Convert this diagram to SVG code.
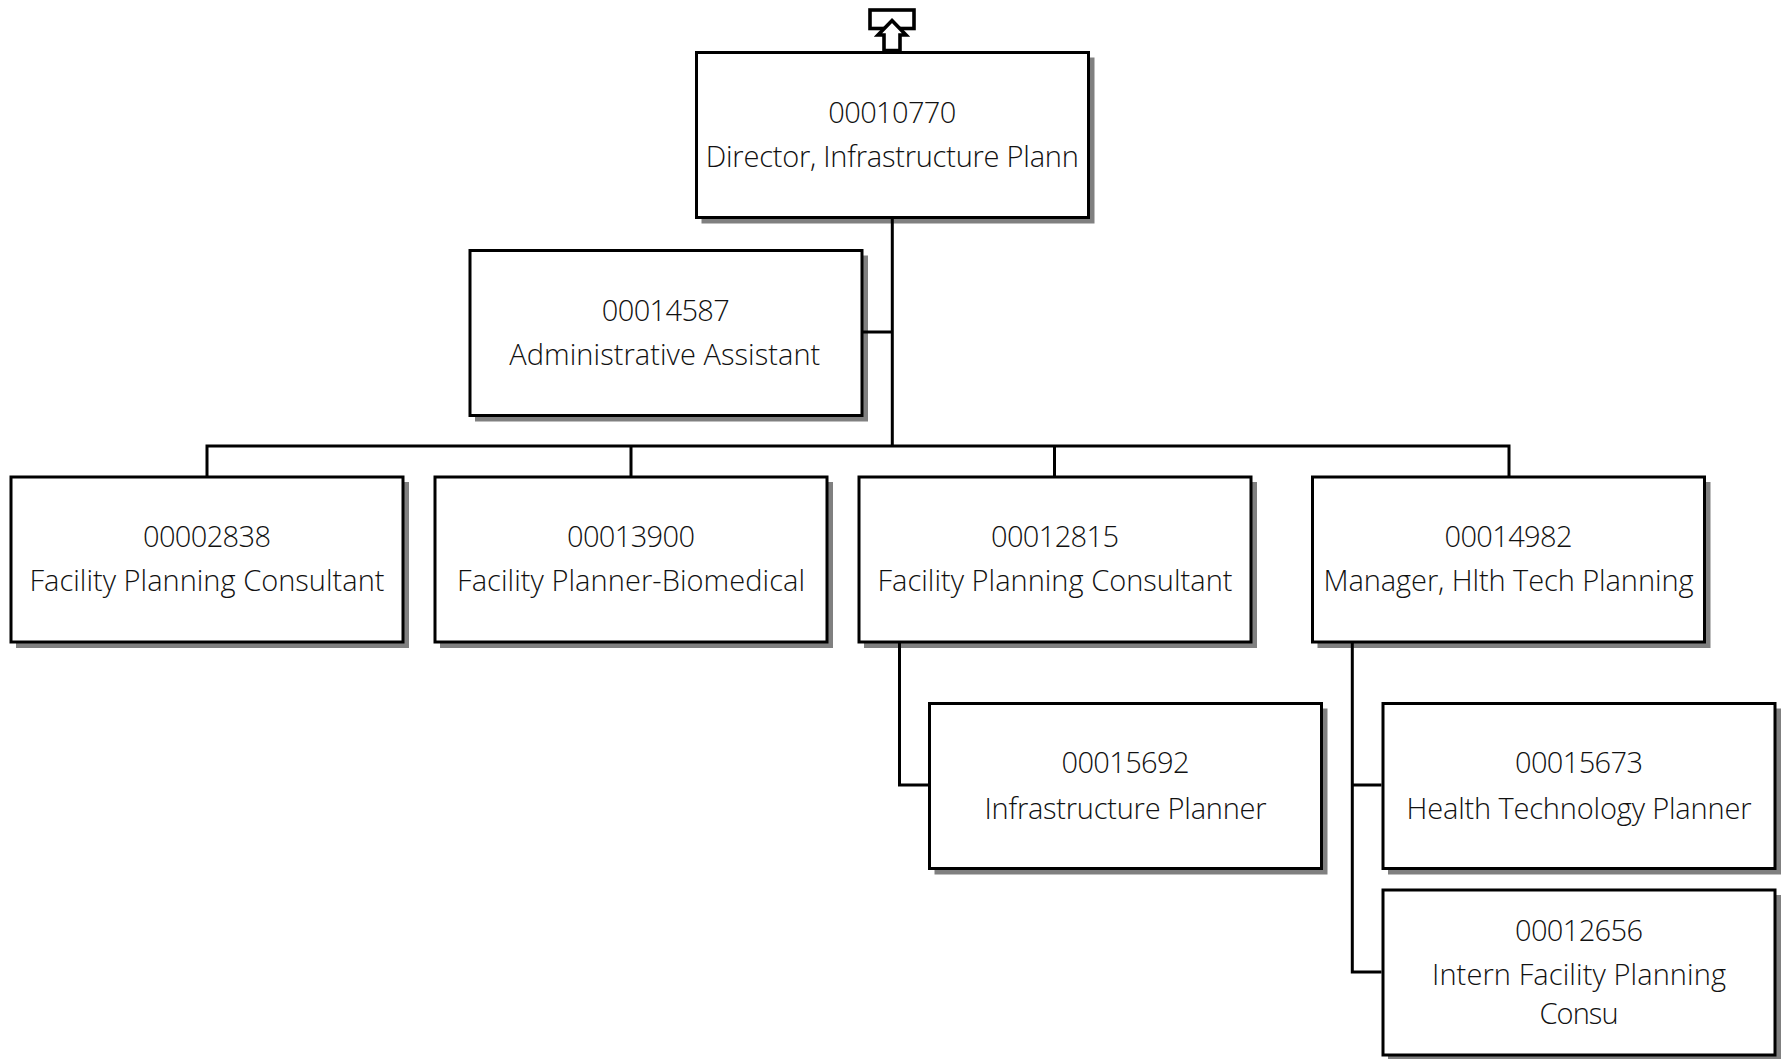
<svg xmlns="http://www.w3.org/2000/svg" width="1783" height="1059" viewBox="0 0 1783 1059">
<style>
.s{fill:#808080;stroke:none}
.b{fill:#fff;stroke:#000;stroke-width:3}
.t{font-family:"Open Sans","Liberation Sans",sans-serif;font-weight:300;font-size:29px;fill:#111;text-anchor:middle;lengthAdjust:spacing}
.c{fill:none;stroke:#000;stroke-width:3}
.i{fill:#fff;stroke:#000;stroke-width:3.6}
</style>
<rect width="1783" height="1059" fill="#fff"/>
<g id="up-arrow">
<rect class="i" x="870" y="10" width="44" height="18.500"/>
<path class="i" d="M892 20.500L906 35H900V50.500H884V35H878Z"/>
</g>
<g id="n00010770"><rect class="s" x="701.500" y="57.500" width="393" height="166"/><rect class="b" x="696.500" y="52.500" width="392" height="165"/><text class="t" x="892.300" y="123" textLength="128">00010770</text><text class="t" x="892.300" y="167" textLength="373">Director, Infrastructure Plann</text></g>
<g id="n00014587"><rect class="s" x="475" y="255.500" width="393" height="166"/><rect class="b" x="470" y="250.500" width="392" height="165"/><text class="t" x="665.800" y="321" textLength="128">00014587</text><text class="t" x="664.800" y="365" textLength="311">Administrative Assistant</text></g>
<g id="n00002838"><rect class="s" x="16" y="482" width="393" height="166"/><rect class="b" x="11" y="477" width="392" height="165"/><text class="t" x="207" y="547" textLength="128">00002838</text><text class="t" x="207" y="591" textLength="355">Facility Planning Consultant</text></g>
<g id="n00013900"><rect class="s" x="440" y="482" width="393" height="166"/><rect class="b" x="435" y="477" width="392" height="165"/><text class="t" x="631" y="547" textLength="128">00013900</text><text class="t" x="631" y="591" textLength="348">Facility Planner-Biomedical</text></g>
<g id="n00012815"><rect class="s" x="864" y="482" width="393" height="166"/><rect class="b" x="859" y="477" width="392" height="165"/><text class="t" x="1055" y="547" textLength="128">00012815</text><text class="t" x="1055" y="591" textLength="355">Facility Planning Consultant</text></g>
<g id="n00014982"><rect class="s" x="1317.500" y="482" width="393" height="166"/><rect class="b" x="1312.500" y="477" width="392" height="165"/><text class="t" x="1508.500" y="547" textLength="128">00014982</text><text class="t" x="1508.500" y="591" textLength="370">Manager, Hlth Tech Planning</text></g>
<g id="n00015692"><rect class="s" x="934.500" y="708.500" width="393" height="166"/><rect class="b" x="929.500" y="703.500" width="392" height="165"/><text class="t" x="1125.500" y="773" textLength="128">00015692</text><text class="t" x="1125.500" y="819" textLength="282">Infrastructure Planner</text></g>
<g id="n00015673"><rect class="s" x="1388" y="708.500" width="393" height="166"/><rect class="b" x="1383" y="703.500" width="392" height="165"/><text class="t" x="1579" y="773" textLength="128">00015673</text><text class="t" x="1579" y="819" textLength="345">Health Technology Planner</text></g>
<g id="n00012656"><rect class="s" x="1388" y="895" width="393" height="166"/><rect class="b" x="1383" y="890" width="392" height="165"/><text class="t" x="1579" y="941" textLength="128">00012656</text><text class="t" x="1579" y="985" textLength="294">Intern Facility Planning</text><text class="t" x="1579" y="1024" textLength="79">Consu</text></g>
<g id="connectors">
<path class="c" d="M892.300 218V446M862 332H892.300M207 476V446H1509V476M631 446V476M1054.500 446V476M899.500 642V785H928M1352.300 642V972H1381.500M1352.300 785H1381.500"/>
</g>
</svg>
